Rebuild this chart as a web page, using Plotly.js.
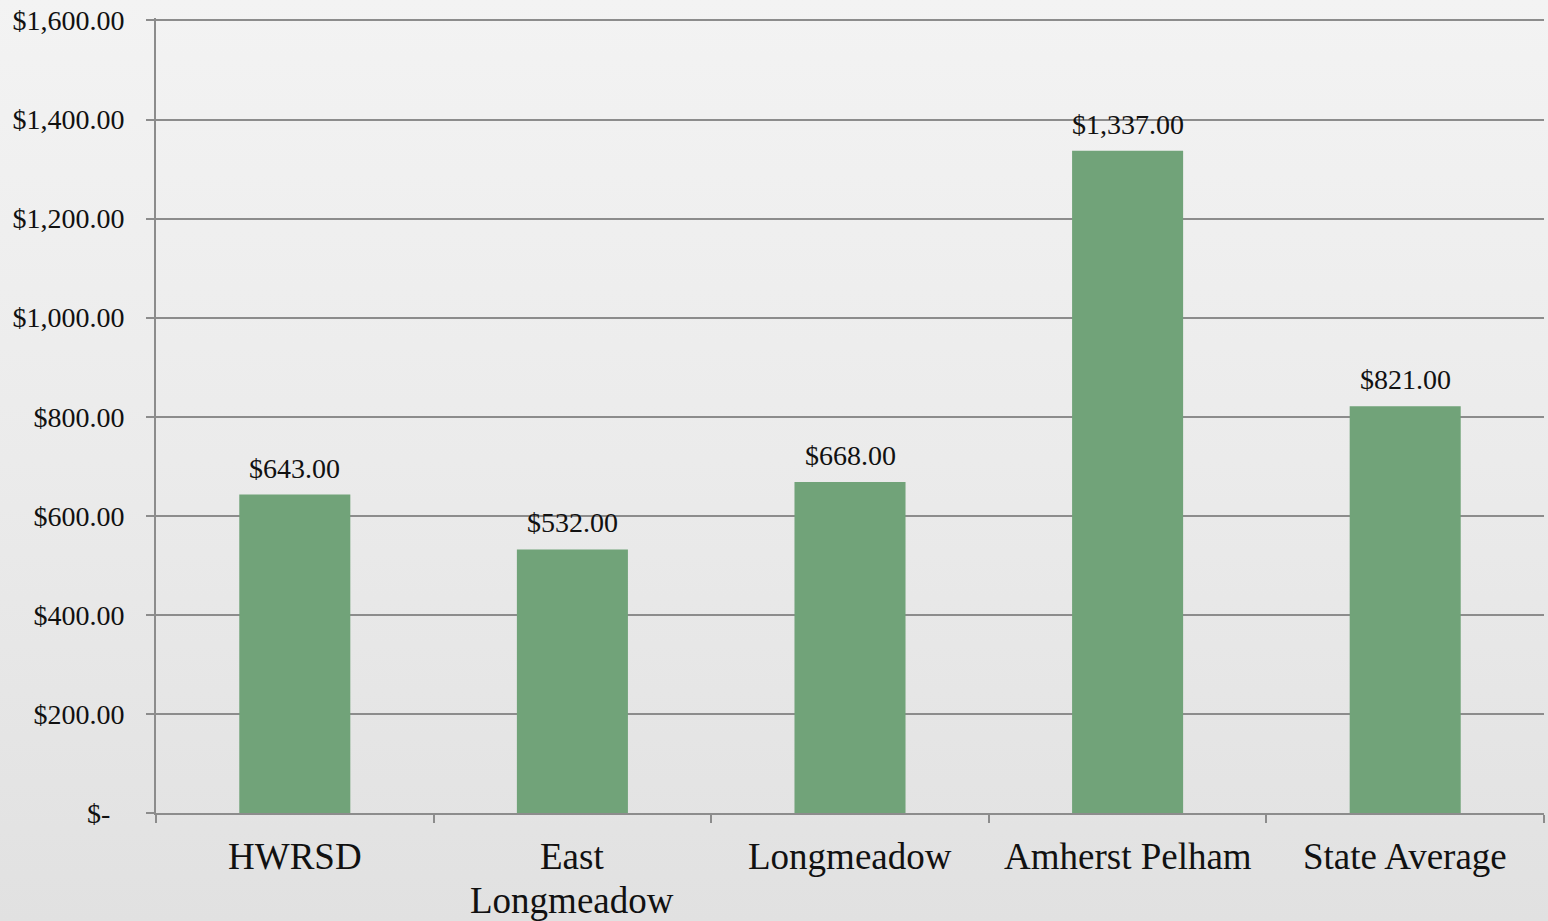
<!DOCTYPE html>
<html>
<head>
<meta charset="utf-8">
<script src="https://cdn.plot.ly/plotly-3.0.1.min.js"></script>
<style>
  html, body { margin: 0; padding: 0; width: 1548px; height: 921px; overflow: hidden;
    background: linear-gradient(to bottom, #f3f3f3 0%, #ebebeb 50%, #e1e1e1 100%); }
  #chart { width: 1548px; height: 921px; }
</style>
</head>
<body>
<div id="chart"></div>
<script>
const categories = ["HWRSD", "East<br>Longmeadow", "Longmeadow", "Amherst Pelham", "State Average"];
const values = [643, 532, 668, 1337, 821];
const valueLabels = ["$643.00", "$532.00", "$668.00", "$1,337.00", "$821.00"];
const yTickVals = [0, 200, 400, 600, 800, 1000, 1200, 1400, 1600];
const yTickText = ["$-\u00a0\u00a0", "$200.00", "$400.00", "$600.00", "$800.00", "$1,000.00", "$1,200.00", "$1,400.00", "$1,600.00"];

const font = "Liberation Serif, Times New Roman, serif";
const trace = {
  type: "bar",
  x: categories,
  y: values,
  marker: { color: "#71a379" },
  hoverinfo: "none"
};
const annotations = categories.map((c, i) => ({
  x: c, y: values[i], xref: "x", yref: "y",
  text: valueLabels[i], showarrow: false,
  yanchor: "bottom", yshift: 9,
  font: { family: font, size: 28, color: "#111" }
}));
// category labels, one text per line so the line spacing matches
categories.forEach(c => {
  c.split("<br>").forEach((line, j) => {
    annotations.push({
      x: c, y: 0, xref: "x", yref: "paper",
      text: line, showarrow: false,
      yanchor: "middle", yshift: -43 - 44 * j,
      font: { family: font, size: 37, color: "#111" }
    });
  });
});
const layout = {
  width: 1548, height: 921,
  margin: { l: 156, r: 4, t: 18, b: 108 },
  paper_bgcolor: "rgba(0,0,0,0)",
  plot_bgcolor: "rgba(0,0,0,0)",
  bargap: 0.6,
  showlegend: false,
  font: { family: font, color: "#111" },
  xaxis: {
    type: "category",
    showgrid: false,
    showline: true, linecolor: "#8c8c8c", linewidth: 2,
    ticks: "outside", tickson: "boundaries", ticklen: 8, tickwidth: 2, tickcolor: "#8c8c8c",
    showticklabels: false,
    zeroline: false
  },
  yaxis: {
    range: [0, 1605],
    tickvals: yTickVals, ticktext: yTickText,
    showgrid: true, gridcolor: "#8c8c8c", gridwidth: 2,
    showline: true, linecolor: "#8c8c8c", linewidth: 2,
    ticks: "outside", ticklen: 8, tickwidth: 2, tickcolor: "#8c8c8c",
    tickfont: { family: font, size: 28, color: "#111" },
    ticklabelstandoff: 16,
    zeroline: false
  },
  annotations: annotations
};
Plotly.newPlot("chart", [trace], layout, { displayModeBar: false, staticPlot: true });
</script>
</body>
</html>
